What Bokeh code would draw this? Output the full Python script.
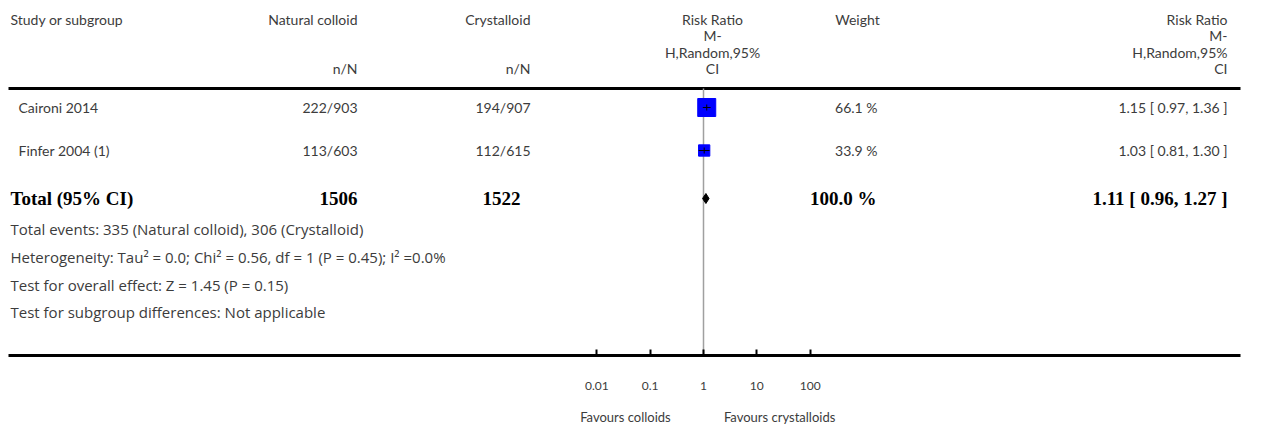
import math
from bokeh.plotting import figure
from bokeh.models import (Range1d, LogScale, LinearAxis, FixedTicker, NumeralTickFormatter,
                          ColumnDataSource)
from bokeh.core.properties import value
from bokeh.embed import file_html
from bokeh.resources import INLINE

# ---- data -------------------------------------------------------------
studies = ["Caironi 2014", "Finfer 2004 (1)"]
colloid_events = [222, 113]
colloid_total = [903, 603]
cryst_events = [194, 112]
cryst_total = [907, 615]
rr = [1.15, 1.03]
rr_lo = [0.97, 0.81]
rr_hi = [1.36, 1.30]
weights = [66.1, 33.9]

total_rr = 1.11
total_lo = 0.96
total_hi = 1.27
total_weight = 100.0

notes = [
    "Total events: {} (Natural colloid), {} (Crystalloid)".format(sum(colloid_events), sum(cryst_events)),
    "Heterogeneity: Tau\u00b2 = 0.0; Chi\u00b2 = 0.56, df = 1 (P = 0.45); I\u00b2 =0.0%",
    "Test for overall effect: Z = 1.45 (P = 0.15)",
    "Test for subgroup differences: Not applicable",
]

tick_values = [0.01, 0.1, 1, 10, 100]
favours = ["Favours colloids", "Favours crystalloids"]

# ---- layout -------------------------------------------------------------
W, H = 1268, 428
FRAME_H = 355            # bottom of the frame = forest axis line
CENTER_PX = 703          # where RR = 1 sits
DECADE_PX = 53.33        # pixels per power of ten

SANS = "Lato"
NOTE_SANS = "Open Sans"
SERIF = "Liberation Serif"
GREY = "#3c3c3c"
FS = "14px"
NOTE_FS = "15px"
BOLD_FS = "19px"

def px_to_rr(px):
    return 10 ** ((px - CENTER_PX) / DECADE_PX)

p = figure(width=W, height=H, x_range=Range1d(0, W), y_range=Range1d(FRAME_H, 0),
           min_border=0, min_border_bottom=H - FRAME_H,
           x_axis_location=None, y_axis_location=None,
           toolbar_location=None, output_backend="svg", outline_line_color=None)
p.grid.visible = False
p.background_fill_color = "white"
p.border_fill_color = "white"

p.extra_x_ranges = {"rr": Range1d(px_to_rr(0), px_to_rr(W))}
p.extra_x_scales = {"rr": LogScale()}

# column anchors (pixels)
COL_STUDY = 10
COL_STUDY_ROW = 18
COL_COLLOID = 357
COL_CRYST = 530
COL_FOREST = 712
COL_WEIGHT = 878
COL_RR = 1227

HEAD_Y = [19, 35, 52, 68]
RULE_Y = 88
ROW_Y = [107, 150]
TOTAL_Y = 198
NOTE_Y = [228, 256, 284, 311]

def txt(x, y, t, align, font=SANS, size=FS, style="normal", color=GREY):
    src = ColumnDataSource(dict(x=x, y=y, t=t))
    p.text(x="x", y="y", text="t", source=src, text_align=align, text_baseline="middle",
           text_font=value(font), text_font_size=size, text_font_style=style, text_color=color)

# header
txt([COL_STUDY], [HEAD_Y[0]], ["Study or subgroup"], "left")
txt([COL_COLLOID, COL_CRYST], [HEAD_Y[0], HEAD_Y[0]], ["Natural colloid", "Crystalloid"], "right")
txt([COL_COLLOID, COL_CRYST], [HEAD_Y[3], HEAD_Y[3]], ["n/N", "n/N"], "right")
rr_head = ["Risk Ratio", "M-", "H,Random,95%", "CI"]
txt([COL_FOREST] * 4, HEAD_Y, rr_head, "center")
txt([857], [HEAD_Y[0]], ["Weight"], "center")
txt([COL_RR] * 4, HEAD_Y, rr_head, "right")

# study rows
txt([COL_STUDY_ROW] * len(studies), ROW_Y, studies, "left")
txt([COL_COLLOID] * len(studies), ROW_Y,
    ["{}/{}".format(e, n) for e, n in zip(colloid_events, colloid_total)], "right")
txt([COL_CRYST] * len(studies), ROW_Y,
    ["{}/{}".format(e, n) for e, n in zip(cryst_events, cryst_total)], "right")
txt([COL_WEIGHT - 1] * len(studies), ROW_Y, ["{:.1f} %".format(w) for w in weights], "right")
txt([COL_RR] * len(studies), ROW_Y,
    ["{:.2f} [ {:.2f}, {:.2f} ]".format(a, b, c) for a, b, c in zip(rr, rr_lo, rr_hi)], "right")

# total row
txt([COL_STUDY], [TOTAL_Y], ["Total (95% CI)"], "left", SERIF, BOLD_FS, "bold", "black")
txt([COL_COLLOID, COL_CRYST - 10], [TOTAL_Y, TOTAL_Y],
    [str(sum(colloid_total)), str(sum(cryst_total))], "right", SERIF, BOLD_FS, "bold", "black")
txt([COL_WEIGHT - 2], [TOTAL_Y], ["{:.1f} %".format(total_weight)], "right", SERIF, BOLD_FS, "bold", "black")
txt([COL_RR], [TOTAL_Y], ["{:.2f} [ {:.2f}, {:.2f} ]".format(total_rr, total_lo, total_hi)],
    "right", SERIF, BOLD_FS, "bold", "black")

# footnotes
txt([COL_STUDY] * len(notes), NOTE_Y, notes, "left", font=NOTE_SANS, size=NOTE_FS)

# header rule
p.segment(x0=[8], x1=[1240], y0=[RULE_Y], y1=[RULE_Y], line_color="black", line_width=3)

# line of no effect
p.segment(x0=[1], x1=[1], y0=[RULE_Y], y1=[FRAME_H], x_range_name="rr",
          line_color="#a0a0a0", line_width=1.5)

# study estimates (square area grows with weight)
sizes = [18 * (w / max(weights)) ** 0.7 for w in weights]
p.scatter(x=rr, y=ROW_Y, size=sizes, marker="square", fill_color="#0000ff",
          line_color="#0000ff", x_range_name="rr")
p.segment(x0=rr_lo, x1=rr_hi, y0=ROW_Y, y1=ROW_Y, x_range_name="rr",
          line_color="black", line_width=1)
p.segment(x0=rr, x1=rr, y0=[y - 3 for y in ROW_Y], y1=[y + 3 for y in ROW_Y],
          x_range_name="rr", line_color="black", line_width=1)

# pooled diamond
p.patch(x=[total_lo, total_rr, total_hi, total_rr],
        y=[TOTAL_Y, TOTAL_Y - 5, TOTAL_Y, TOTAL_Y + 5],
        x_range_name="rr", fill_color="black", line_color="black")

# forest axis
ax = LinearAxis(x_range_name="rr", ticker=FixedTicker(ticks=tick_values),
                formatter=NumeralTickFormatter(format="0.[00]"),
                bounds=(px_to_rr(8), px_to_rr(1240)))
ax.axis_line_width = 3
ax.axis_line_color = "black"
ax.major_tick_in = 6
ax.major_tick_out = 0
ax.major_tick_line_width = 2
ax.minor_tick_line_color = None
ax.major_label_standoff = 26
ax.major_label_text_font = SANS
ax.major_label_text_font_size = "12px"
ax.major_label_text_color = GREY
p.add_layout(ax, "below")

# direction captions, carried by a bare axis; the leading no-break spaces
# push the caption pair so that it is centred on RR = 1
gap = "\u00a0" * 16
lead = "\u00a0" * 44
cap = LinearAxis(x_range_name="rr", ticker=FixedTicker(ticks=[]),
                 axis_label=lead + favours[0] + gap + favours[1])
cap.axis_line_color = None
cap.major_tick_line_color = None
cap.minor_tick_line_color = None
cap.major_label_text_font_size = "0px"
cap.axis_label_standoff = 16
cap.axis_label_text_font = SANS
cap.axis_label_text_font_size = "13px"
cap.axis_label_text_font_style = "normal"
cap.axis_label_text_color = GREY
p.add_layout(cap, "below")

open("out.html", "w").write(file_html(p, INLINE))
